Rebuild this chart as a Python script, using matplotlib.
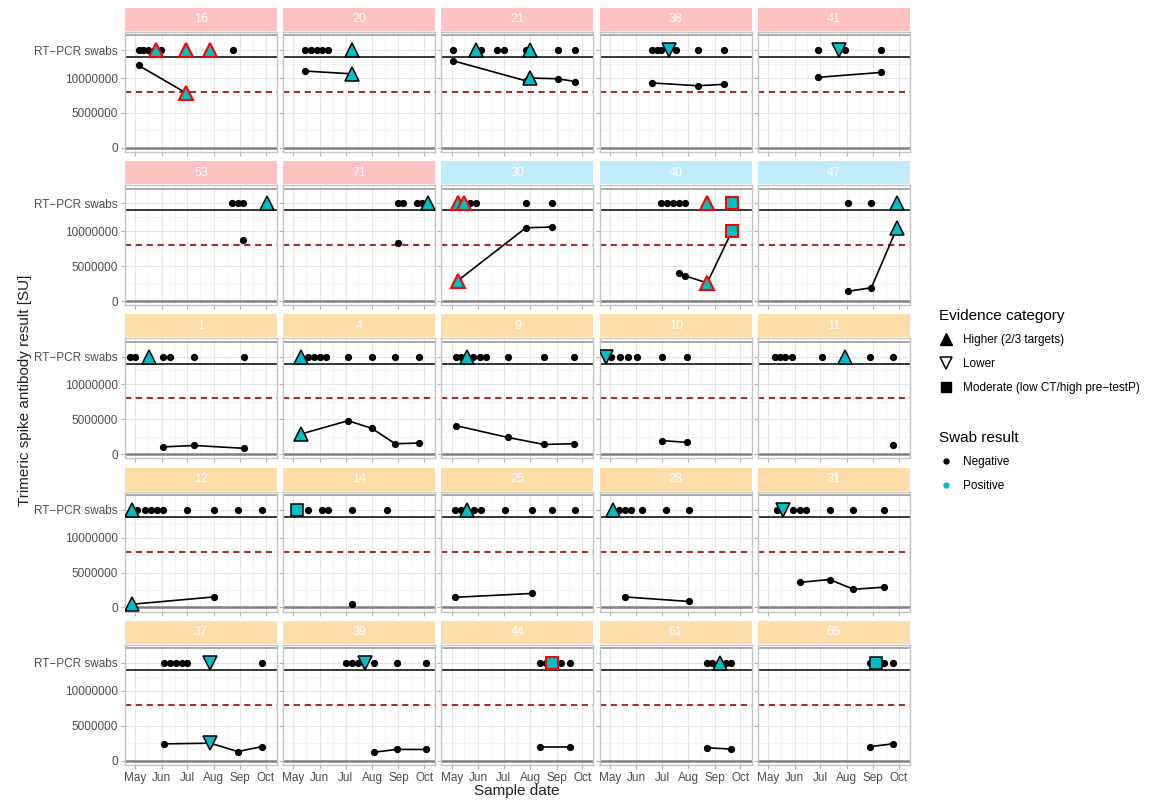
import numpy as np
import matplotlib
matplotlib.use("Agg")
import matplotlib.pyplot as plt
import matplotlib.dates as mdates
from matplotlib.lines import Line2D

plt.rcParams['font.family'] = ['Liberation Sans', 'DejaVu Sans']

# facets, left to right, top to bottom
panel_ids = [16, 20, 21, 38, 41, 53, 71, 30, 40, 47, 1, 4, 9, 10, 11,
             12, 14, 25, 28, 31, 37, 39, 44, 61, 65]
panel_group = ['a'] * 7 + ['b'] * 3 + ['c'] * 15

# swab dates (2020) and result codes:
# n = negative, H/L/M = positive higher/lower/moderate evidence, lowercase = red outline
swab_dates = {
    16: ['05-05', '05-10', '05-16', '05-25', '05-31', '06-29', '07-27', '08-23'],
    20: ['05-15', '05-22', '05-28', '06-04', '06-11', '07-09'],
    21: ['05-02', '05-29', '06-04', '06-23', '07-01', '07-27', '08-01', '09-02', '09-23'],
    38: ['06-19', '06-25', '06-30', '07-09', '07-17', '08-12', '09-12'],
    41: ['06-28', '07-23', '07-30', '09-10'],
    53: ['08-22', '08-29', '09-04', '10-02'],
    71: ['08-31', '09-06', '09-23', '09-28', '10-06'],
    30: ['05-08', '05-15', '05-23', '05-30', '07-27', '08-26'],
    40: ['06-30', '07-07', '07-14', '07-21', '07-28', '08-23', '09-21'],
    47: ['08-03', '08-30', '09-29'],
    1: ['04-25', '05-01', '05-17', '06-03', '06-11', '07-09', '09-05'],
    4: ['05-10', '05-18', '05-25', '06-01', '06-08', '07-04', '08-01', '08-28', '09-25'],
    9: ['05-06', '05-12', '05-19', '05-26', '06-03', '06-10', '07-06', '08-17', '09-21'],
    10: ['04-27', '05-02', '05-13', '05-22', '06-02', '07-01', '07-30'],
    11: ['05-09', '05-15', '05-21', '05-29', '07-03', '07-30', '08-28', '09-24'],
    12: ['04-27', '05-03', '05-13', '05-20', '05-27', '06-03', '07-01', '08-01', '08-29', '09-26'],
    14: ['05-05', '05-18', '06-04', '06-11', '07-08', '08-18'],
    25: ['05-05', '05-12', '05-19', '05-27', '06-04', '07-02', '08-03', '08-27', '09-23'],
    28: ['05-05', '05-12', '05-19', '05-26', '06-08', '07-06', '08-02'],
    31: ['05-11', '05-18', '05-30', '06-08', '06-15', '07-12', '08-09', '09-14'],
    37: ['06-04', '06-11', '06-18', '06-25', '07-01', '07-28', '09-26'],
    39: ['07-02', '07-09', '07-16', '07-24', '08-03', '08-30', '10-03'],
    44: ['08-12', '08-19', '08-26', '09-06', '09-17'],
    61: ['08-23', '08-29', '09-07', '09-14', '09-20'],
    65: ['08-28', '09-05', '09-14', '09-24'],
}
swab_codes = {
    16: 'nnnhnhhn', 20: 'nnnnnH', 21: 'nHnnnnHnn', 38: 'nnnLnnn', 41: 'nLnn',
    53: 'nnnH', 71: 'nnnnH', 30: 'hhnnnn', 40: 'nnnnnhm', 47: 'nnH',
    1: 'nnHnnnn', 4: 'Hnnnnnnnn', 9: 'nnHnnnnnn', 10: 'Lnnnnnn', 11: 'nnnnnHnn',
    12: 'Hnnnnnnnnn', 14: 'Mnnnnn', 25: 'nnHnnnnnn', 28: 'Hnnnnnn', 31: 'nLnnnnnn',
    37: 'nnnnnLn', 39: 'nnnLnnn', 44: 'nnmnn', 61: 'nnHnn', 65: 'nMnn',
}

# antibody samples
ab_dates = {
    16: ['05-05', '06-29'], 20: ['05-15', '07-09'],
    21: ['05-02', '07-27', '08-01', '09-02', '09-23'],
    38: ['06-19', '08-12', '09-12'], 41: ['06-28', '09-10'],
    53: ['09-04'], 71: ['08-31'], 30: ['05-08', '07-27', '08-26'],
    40: ['07-21', '07-28', '08-23', '09-21'], 47: ['08-03', '08-30', '09-29'],
    1: ['06-03', '07-09', '09-05'], 4: ['05-10', '07-04', '08-01', '08-28', '09-25'],
    9: ['05-06', '07-06', '08-17', '09-21'], 10: ['07-01', '07-30'], 11: ['09-24'],
    12: ['04-27', '08-01'], 14: ['07-08'], 25: ['05-05', '08-03'],
    28: ['05-19', '08-02'], 31: ['06-08', '07-12', '08-09', '09-14'],
    37: ['06-04', '07-28', '08-29', '09-26'], 39: ['08-03', '08-30', '10-03'],
    44: ['08-12', '09-17'], 61: ['08-23', '09-20'], 65: ['08-28', '09-24'],
}
ab_values = {
    16: [11.8e6, 7.9e6], 20: [11.0e6, 10.6e6],
    21: [12.5e6, 9.6e6, 10.0e6, 9.9e6, 9.5e6],
    38: [9.3e6, 8.9e6, 9.1e6], 41: [10.1e6, 10.8e6],
    53: [8.7e6], 71: [8.3e6], 30: [2.9e6, 10.5e6, 10.6e6],
    40: [4.0e6, 3.6e6, 2.6e6, 10.0e6], 47: [1.4e6, 1.9e6, 10.5e6],
    1: [1.05e6, 1.25e6, 0.85e6], 4: [2.9e6, 4.8e6, 3.7e6, 1.5e6, 1.6e6],
    9: [4.1e6, 2.4e6, 1.4e6, 1.5e6], 10: [1.95e6, 1.7e6], 11: [1.3e6],
    12: [0.45e6, 1.5e6], 14: [0.5e6], 25: [1.45e6, 2.0e6],
    28: [1.5e6, 0.85e6], 31: [3.6e6, 4.0e6, 2.6e6, 2.9e6],
    37: [2.4e6, 2.5e6, 1.3e6, 2.0e6], 39: [1.2e6, 1.6e6, 1.6e6],
    44: [1.9e6, 1.9e6], 61: [1.85e6, 1.65e6], 65: [2.0e6, 2.4e6],
}

threshold = 8e6
swab_level = 14e6

strip_cols = {'a': '#FFC1C1', 'b': '#C0EBFA', 'c': '#FFDDA9'}
pos_fill = '#00BFC4'
shape_of = {'h': '^', 'l': 'v', 'm': 's'}


def d(s):
    return np.datetime64('2020-' + s)


W, H = 1149, 802
fig = plt.figure(figsize=(W / 100, H / 100), dpi=100)


def px_axes(x, y, w, h):
    return fig.add_axes([x / W, 1 - (y + h) / H, w / W, h / H])


def pos_marker(ax, x, y, code):
    mk = shape_of[code.lower()]
    edge = 'red' if code.islower() else 'black'
    ms = 8 if mk == 's' else 10
    ax.plot([x], [y], ls='', marker=mk, ms=ms, mfc=pos_fill, mec=edge,
            mew=1.5 if code.islower() else 1.1, zorder=6)


for i, pid in enumerate(panel_ids):
    r, c = divmod(i, 5)
    x0 = 125 + c * 158.2
    top = 8 + r * 153.2

    # strip
    sax = px_axes(x0, top, 152, 23)
    sax.set_facecolor(strip_cols[panel_group[i]])
    sax.set_xticks([])
    sax.set_yticks([])
    for sp in sax.spines.values():
        sp.set_visible(False)
    sax.text(0.5, 0.5, str(pid), color='white', fontsize=9,
             ha='center', va='center', transform=sax.transAxes)

    ax = px_axes(x0, top + 24, 152, 120)
    ax.set_xlim(d('04-19'), d('10-14'))
    ax.set_ylim(-0.6e6, 16.6e6)

    ax.xaxis.set_major_locator(mdates.MonthLocator())
    ax.xaxis.set_minor_locator(mdates.DayLocator(bymonthday=16))
    ax.xaxis.set_major_formatter(mdates.DateFormatter('%b'))
    ax.set_yticks([0, 5e6, 10e6, swab_level])
    ax.set_yticks([2.5e6, 7.5e6, 12e6], minor=True)
    ax.set_yticklabels(['0', '5000000', '10000000', 'RT\u2212PCR swabs'])
    ax.grid(which='major', color='#E6E6E6', lw=0.8, zorder=0)
    ax.grid(which='minor', color='#F0F0F0', lw=0.5, zorder=0)
    ax.set_axisbelow(True)
    for sp in ax.spines.values():
        sp.set_color('#C4C4C4')
        sp.set_linewidth(1.0)
    ax.tick_params(which='major', color='#B3B3B3', length=3, labelsize=8.5,
                   labelcolor='#4D4D4D', pad=2)
    ax.tick_params(which='minor', length=0)
    if c != 0:
        ax.tick_params(axis='y', labelleft=False)
    if r != 4:
        ax.tick_params(axis='x', labelbottom=False)

    ax.axhline(0, color='#808080', lw=1.8, zorder=1)
    ax.axhline(16.1e6, color='#9A9A9A', lw=1.2, zorder=1)
    ax.axhline(13e6, color='black', lw=1.1, zorder=2)
    ax.axhline(threshold, color='#A8302C', lw=1.5, ls=(0, (3, 2.2)), zorder=2)

    # swabs
    sd = [d(s) for s in swab_dates[pid]]
    codes = swab_codes[pid]
    neg = [x for x, k in zip(sd, codes) if k == 'n']
    ax.plot(neg, [swab_level] * len(neg), ls='', marker='o', ms=4.2,
            color='black', zorder=4)
    pos = {}
    for x, k in zip(sd, codes):
        if k != 'n':
            pos_marker(ax, x, swab_level, k)
            pos[x] = k

    # antibody series
    ad = [d(s) for s in ab_dates[pid]]
    av = ab_values[pid]
    ax.plot(ad, av, color='black', lw=1.2, marker='o', ms=4.2, zorder=3)
    for x, v in zip(ad, av):
        if x in pos:
            pos_marker(ax, x, v, pos[x])

fig.text(25 / W, 1 - 390 / H, 'Trimeric spike antibody result [SU]', rotation=90,
         fontsize=11, ha='center', va='center', color='#222222')
fig.text(517 / W, 1 - 791 / H, 'Sample date', fontsize=11, ha='center',
         va='center', color='#222222')

ev_handles = [
    Line2D([], [], ls='', marker='^', ms=8, color='black'),
    Line2D([], [], ls='', marker='v', ms=8, mfc='white', mec='black', mew=1.1),
    Line2D([], [], ls='', marker='s', ms=7, color='black'),
]
ev_labels = ['Higher (2/3 targets)', 'Lower', 'Moderate (low CT/high pre\u2212testP)']
leg1 = fig.legend(ev_handles, ev_labels, title='Evidence category', loc='upper left',
                  bbox_to_anchor=(928 / W, 1 - 298 / H), frameon=False, fontsize=8.5,
                  title_fontsize=11, labelspacing=1.0, handlelength=1.2,
                  handletextpad=0.9, alignment='left')

sw_handles = [
    Line2D([], [], ls='', marker='o', ms=3.5, color='black'),
    Line2D([], [], ls='', marker='o', ms=3.5, color=pos_fill),
]
leg2 = fig.legend(sw_handles, ['Negative', 'Positive'], title='Swab result', loc='upper left',
                  bbox_to_anchor=(928 / W, 1 - 420 / H), frameon=False, fontsize=8.5,
                  title_fontsize=11, labelspacing=1.0, handlelength=1.2,
                  handletextpad=0.9, alignment='left')

fig.savefig('out.png', dpi=100)
